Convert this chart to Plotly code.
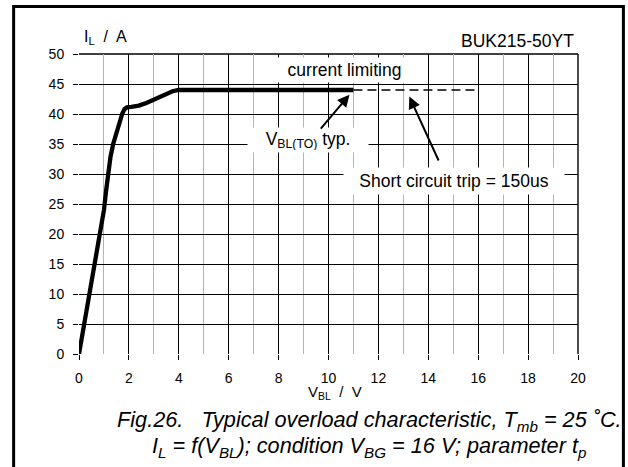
import plotly.graph_objects as go

# ---- data ----
v_bl = [0, 1.0, 1.08, 1.16, 1.26, 1.37, 1.5, 1.62, 1.73, 1.82, 1.92, 2.1, 2.4, 2.7, 3.0, 3.25, 3.5, 3.75, 4.0, 11.0]
i_l = [0, 24, 27, 30, 32.8, 35, 37, 38.7, 40, 40.8, 41.1, 41.2, 41.4, 41.85, 42.4, 42.95, 43.45, 43.8, 44, 44]
trip_v = [11, 16]
trip_i = [44, 44]

x_ticks = [0, 2, 4, 6, 8, 10, 12, 14, 16, 18, 20]
y_ticks = [0, 5, 10, 15, 20, 25, 30, 35, 40, 45, 50]

FONT = "Arial, Liberation Sans, sans-serif"

fig = go.Figure()
fig.add_trace(go.Scatter(x=v_bl, y=i_l, mode="lines",
                         line=dict(color="black", width=4.3),
                         showlegend=False, hoverinfo="skip"))
fig.add_trace(go.Scatter(x=trip_v, y=trip_i, mode="lines",
                         line=dict(color="black", width=1.6, dash="9px,5px"), showlegend=False, hoverinfo="skip"))

fig.update_layout(
    width=628, height=467,
    margin=dict(l=79, r=50, t=54, b=113),
    paper_bgcolor="white", plot_bgcolor="white",
    font=dict(family=FONT, size=14, color="black"),
    xaxis=dict(range=[x_ticks[0], x_ticks[-1]], tickmode="linear", tick0=x_ticks[0],
               dtick=x_ticks[1] - x_ticks[0],
               showgrid=True, gridcolor="black", gridwidth=1.4,
               ticks="outside", ticklen=5, tickwidth=1.4, tickcolor="black",
               ticklabelstandoff=6,
               minor=dict(dtick=1, tick0=0, showgrid=True, gridcolor="#b4b4b4", gridwidth=1, ticks=""),
               zeroline=False, showline=False, tickfont=dict(size=14)),
    yaxis=dict(range=[y_ticks[0], y_ticks[-1]], tickmode="linear", tick0=y_ticks[0],
               dtick=y_ticks[1] - y_ticks[0],
               showgrid=True, gridcolor="black", gridwidth=1.4,
               ticks="outside", ticklen=5, tickwidth=1.4, tickcolor="black",
               ticklabelstandoff=6,
               zeroline=False, showline=False, tickfont=dict(size=14)),
)

# edge grid lines at x=20 and y=50 (plotly clips grid lines on range ends)
fig.add_shape(type="line", xref="paper", yref="paper", x0=1, x1=1, y0=0, y1=1,
              line=dict(color="black", width=1.4), layer="below")
fig.add_shape(type="line", xref="paper", yref="paper", x0=0, x1=1, y0=1, y1=1,
              line=dict(color="black", width=1.4), layer="below")

# outer frame
fig.add_shape(type="rect", xref="paper", yref="paper", x0=-0.131, x1=1.091, y0=-0.6, y1=1.158,
              line=dict(color="black", width=3), layer="above")

# boxed labels
fig.add_annotation(x=10.64, y=47.4, xref="x", yref="y", text="current limiting", showarrow=False,
                   font=dict(size=17.5), bgcolor="white", width=133, height=20, borderpad=2)
fig.add_annotation(x=9.16, y=35.6, xref="x", yref="y", text="V<sub>BL(TO)</sub> typ.", showarrow=False,
                   font=dict(size=17.5), bgcolor="white", width=116, height=20, borderpad=2)
fig.add_annotation(x=15.04, y=28.8, xref="x", yref="y", text="Short circuit trip = 150us", showarrow=False,
                   font=dict(size=17.5), bgcolor="white", width=216, height=22, borderpad=2)

# arrows
fig.add_annotation(x=10.84, y=43.2, ax=9.64, ay=37.3, xref="x", yref="y", axref="x", ayref="y",
                   text="", showarrow=True, arrowhead=2, arrowsize=1.2, arrowwidth=2, arrowcolor="black")
fig.add_annotation(x=13.24, y=42.9, ax=14.44, ay=32.0, xref="x", yref="y", axref="x", ayref="y",
                   text="", showarrow=True, arrowhead=2, arrowsize=1.2, arrowwidth=2, arrowcolor="black")

# axis titles and part number
fig.add_annotation(x=0.006, y=1.055, xref="paper", yref="paper", xanchor="left", yanchor="middle",
                   text="I<sub>L</sub>  /  A", showarrow=False, font=dict(size=16))
fig.add_annotation(x=0.996, y=1.045, xref="paper", yref="paper", xanchor="right", yanchor="middle",
                   text="BUK215-50YT", showarrow=False, font=dict(size=17.5))
fig.add_annotation(x=0.514, y=-0.13, xref="paper", yref="paper", xanchor="center", yanchor="middle",
                   text="V<sub>BL</sub>  /  V", showarrow=False, font=dict(size=15))

# caption
fig.add_annotation(x=0.582, y=-0.222, xref="paper", yref="paper", xanchor="center", yanchor="middle",
                   text="<i>Fig.26.   Typical overload characteristic, T<sub>mb</sub> = 25 ˚C.</i>",
                   showarrow=False, font=dict(size=21.7))
fig.add_annotation(x=0.582, y=-0.309, xref="paper", yref="paper", xanchor="center", yanchor="middle",
                   text="<i>I<sub>L</sub> = f(V<sub>BL</sub>); condition V<sub>BG</sub> = 16 V; parameter t<sub>p</sub></i>",
                   showarrow=False, font=dict(size=21.7))

fig.write_html("out.html", config={"displayModeBar": False},
               post_script="document.body.style.margin='0';")
